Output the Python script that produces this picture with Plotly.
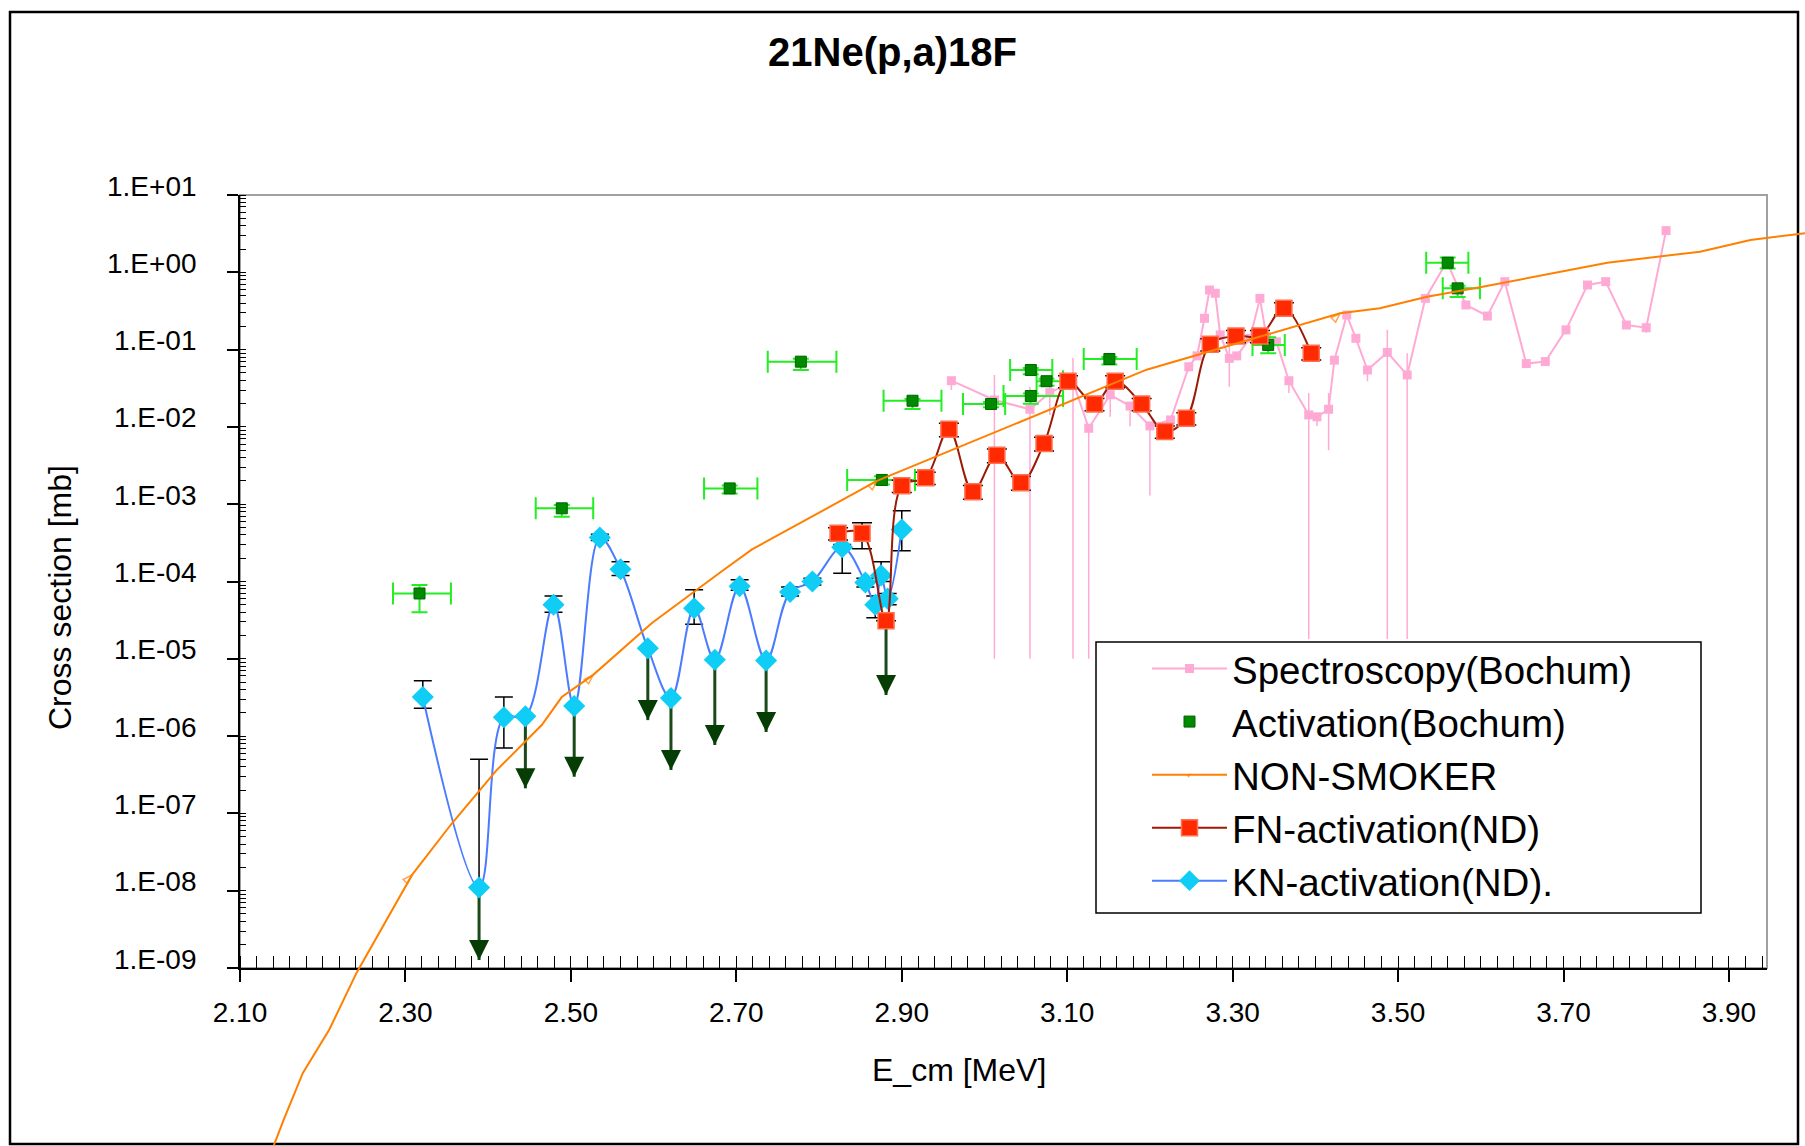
import plotly.graph_objects as go

W, H = 1805, 1146
FONT = "Liberation Sans, Arial, sans-serif"

# ---------------- data ----------------
# Spectroscopy (Bochum)
spec_E = [2.960, 3.012, 3.055, 3.079, 3.107, 3.126, 3.152, 3.176, 3.200, 3.225,
          3.247, 3.257, 3.266, 3.272, 3.279, 3.285, 3.296, 3.305, 3.321, 3.333,
          3.341, 3.353, 3.368, 3.392, 3.402, 3.416, 3.423, 3.438, 3.449, 3.463,
          3.487, 3.511, 3.533, 3.559, 3.582, 3.608, 3.629, 3.655, 3.678, 3.703,
          3.729, 3.751, 3.776, 3.800, 3.824]
spec_sigma = [0.0396, 0.0223, 0.0169, 0.0277, 0.0385, 0.0096, 0.026, 0.0186, 0.0103, 0.0123,
              0.060, 0.083, 0.254, 0.59, 0.535, 0.155, 0.077, 0.083, 0.14, 0.46,
              0.144, 0.126, 0.0396, 0.0143, 0.0135, 0.0169, 0.073, 0.28, 0.14, 0.0545,
              0.092, 0.047, 0.46, 1.37, 0.378, 0.272, 0.757, 0.066, 0.070, 0.18,
              0.685, 0.757, 0.208, 0.192, 3.46]
spec_hi = [None, 0.047, 0.033, 0.033, 0.078, None, None, 0.021, 0.0112, 0.0135,
           0.066, None, None, None, None, None, 0.109, None, None, None,
           None, None, None, 0.0275, None, 0.0275, None, None, None, None,
           0.18, 0.090, None, None, None, None, None, None, None, None,
           None, None, None, None, None]
spec_lo = [0.030, 1e-5, 1e-5, 0.0143, 1e-5, 1e-5, 0.0135, 0.0102, 1.3e-3, 0.0096,
           0.052, None, None, None, None, None, 0.033, None, None, None,
           None, None, 0.0275, 1.8e-5, 0.0102, 5.0e-3, None, None, None, 0.039,
           1.8e-5, 1.8e-5, None, None, None, 0.24, None, 0.058, 0.062, 0.16,
           None, None, None, 0.165, None]

# Activation (Bochum)
act_E = [2.317, 2.489, 2.692, 2.778, 2.876, 2.913, 3.008, 3.056, 3.056, 3.075,
         3.151, 3.343, 3.560, 3.572]
act_sigma = [7.0e-5, 8.85e-4, 1.6e-3, 0.0698, 2.06e-3, 0.0218, 0.0198, 0.0545, 0.0251, 0.039,
             0.0756, 0.115, 1.33, 0.62]
act_E_lo = [2.285, 2.4575, 2.661, 2.738, 2.834, 2.878, 2.974, 3.031, 3.023, 3.063,
            3.120, 3.324, 3.534, 3.554]
act_E_hi = [2.355, 2.527, 2.7255, 2.821, 2.916, 2.948, 3.025, 3.082, 3.095, 3.095,
            3.184, 3.363, 3.585, 3.599]
act_hi = [9.0e-5, 9.8e-4, 1.75e-3, 0.076, 2.3e-3, 0.0229, 0.021, 0.058, 0.027, 0.042,
          0.080, 0.144, 1.55, 0.67]
act_lo = [4.0e-5, 6.9e-4, 1.38e-3, 0.0545, 1.8e-3, 0.0170, 0.018, 0.048, 0.020, 0.034,
          0.064, 0.090, 1.12, 0.48]

# NON-SMOKER calculation
ns_E = [2.141, 2.153, 2.176, 2.208, 2.241, 2.308, 2.356, 2.410, 2.465, 2.489,
        2.527, 2.598, 2.680, 2.719, 2.870, 3.019, 3.196, 3.430, 3.478, 3.535,
        3.599, 3.753, 3.865, 3.926, 3.992]
ns_sigma = [5.1e-12, 1.1e-11, 4.4e-11, 1.6e-10, 8.7e-10, 1.6e-8, 7.4e-8, 3.6e-7, 1.4e-6, 3.2e-6,
            6.2e-6, 2.9e-5, 1.3e-4, 2.6e-4, 2.0e-3, 9.1e-3, 5.5e-2, 0.295, 0.342, 0.483,
            0.64, 1.33, 1.85, 2.62, 3.2]
ns_marked = [5, 10, 14, 17]   # points carrying a marker

# FN-activation (ND)
fn_E = [2.823, 2.852, 2.881, 2.900, 2.929, 2.957, 2.986, 3.015, 3.044, 3.072,
        3.101, 3.133, 3.158, 3.190, 3.218, 3.244, 3.273, 3.304, 3.333, 3.362, 3.395]
fn_sigma = [4.2e-4, 4.2e-4, 3.1e-5, 1.73e-3, 2.2e-3, 9.3e-3, 1.45e-3, 4.3e-3, 1.9e-3, 6.1e-3,
            3.9e-2, 1.98e-2, 3.9e-2, 1.98e-2, 8.7e-3, 1.29e-2, 0.117, 0.150, 0.150, 0.342, 0.0895]
fn_err_pct = [18, 37, 0, 18, 18, 20, 20, 20, 20, 20,
              18, 18, 18, 18, 18, 18, 18, 18, 18, 18, 18]
# upper limits: where the arrow ends
fn_limit = [None, None, 3.40e-6, None, None, None, None, None, None, None,
            None, None, None, None, None, None, None, None, None, None, None]

# KN-activation (ND)
kn_E = [2.321, 2.389, 2.419, 2.445, 2.479, 2.504, 2.535, 2.560, 2.593, 2.621, 2.649,
        2.674, 2.704, 2.736, 2.765, 2.792, 2.828, 2.856, 2.868, 2.875, 2.883, 2.900]
kn_sigma = [3.2e-6, 1.1e-8, 1.75e-6, 1.8e-6, 5.0e-5, 2.45e-6, 3.7e-4, 1.44e-4, 1.37e-5, 3.1e-6, 4.5e-5,
            9.7e-6, 8.7e-5, 9.5e-6, 7.3e-5, 1.0e-4, 2.77e-4, 9.7e-5, 5.0e-5, 1.2e-4, 6.0e-5, 4.7e-4]
kn_hi = [5.2e-6, 5.0e-7, 3.2e-6, None, 6.5e-5, None, 4.1e-4, 1.8e-4, None, None, 7.8e-5,
         None, 1.05e-4, None, 8.5e-5, 1.1e-4, 3.0e-4, 1.1e-4, 6.5e-5, 1.8e-4, 7.0e-5, 8.2e-4]
kn_lo = [2.3e-6, None, 7.0e-7, None, 4.0e-5, None, 3.4e-4, 1.2e-4, None, None, 2.8e-5,
         None, 7.7e-5, None, 6.5e-5, 9.0e-5, 1.28e-4, 8.5e-5, 3.4e-5, 1.0e-4, 5.0e-5, 2.5e-4]
kn_limit = [None, 1.27e-9, None, 2.11e-7, None, 2.98e-7, None, None, 1.61e-6, 3.64e-7, None,
            7.67e-7, None, 1.13e-6, None, None, None, None, None, None, None, None]

y_tick_exp = [-9, -8, -7, -6, -5, -4, -3, -2, -1, 0, 1]
y_ticktext = ["1.E-09", "1.E-08", "1.E-07", "1.E-06", "1.E-05", "1.E-04",
              "1.E-03", "1.E-02", "1.E-01", "1.E+00", "1.E+01"]


def plus(vals, hi):
    return [(h - v) if h is not None else 0 for v, h in zip(vals, hi)]


def minus(vals, lo):
    return [(v - l) if l is not None else 0 for v, l in zip(vals, lo)]


# ---------------- layout geometry (pixels) ----------------
PL, PR, PT, PB = 240, 1767, 195, 968          # plot area
X_RANGE = [2.10, 3.946]
Y_RANGE = [-9, 1]
px_per_x = (PR - PL) / (X_RANGE[1] - X_RANGE[0])
px_per_dec = (PB - PT) / (Y_RANGE[1] - Y_RANGE[0])
# full-figure axes with the same scale (lets the theory curve run past the frame)
X2_RANGE = [X_RANGE[0] - PL / px_per_x, X_RANGE[1] + (W - PR) / px_per_x]
Y2_RANGE = [Y_RANGE[0] - (H - PB) / px_per_dec, Y_RANGE[1] + PT / px_per_dec]

fig = go.Figure()

# Spectroscopy
fig.add_trace(go.Scatter(
    x=spec_E, y=spec_sigma, mode="lines+markers", name="Spectroscopy(Bochum)",
    legendrank=1,
    line=dict(color="#FFAAD5", width=2),
    marker=dict(symbol="square", size=9, color="#FFAAD5"),
    error_y=dict(type="data", symmetric=False, array=plus(spec_sigma, spec_hi),
                 arrayminus=minus(spec_sigma, spec_lo), color="#FFAAD5",
                 thickness=1.5, width=0),
))

# Activation
fig.add_trace(go.Scatter(
    x=act_E, y=act_sigma, mode="markers", name="Activation(Bochum)",
    legendrank=2,
    marker=dict(symbol="square", size=11, color="#008A00",
                line=dict(color="#006400", width=1)),
    error_y=dict(type="data", symmetric=False, array=plus(act_sigma, act_hi),
                 arrayminus=minus(act_sigma, act_lo), color="#22EE22",
                 thickness=2, width=8),
    error_x=dict(type="data", symmetric=False,
                 array=[h - e for e, h in zip(act_E, act_E_hi)],
                 arrayminus=[e - l for e, l in zip(act_E, act_E_lo)],
                 color="#22EE22", thickness=2, width=11),
))

# Upper-limit arrows (KN and FN): stem from the point, head ending at the limit
lim_E, lim_from, lim_to = [], [], []
for e, s, t in list(zip(kn_E, kn_sigma, kn_limit)) + list(zip(fn_E, fn_sigma, fn_limit)):
    if t is not None:
        lim_E.append(e)
        lim_from.append(s)
        lim_to.append(t)
fig.add_trace(go.Scatter(
    x=lim_E, y=lim_to, mode="markers", showlegend=False, cliponaxis=False,
    marker=dict(symbol="arrow-down", size=20, color="#053D05"),
    error_y=dict(type="data", symmetric=False,
                 array=[f - t for f, t in zip(lim_from, lim_to)],
                 arrayminus=[0] * len(lim_E), color="#1A4A1A", thickness=3, width=0),
))

# KN-activation
fig.add_trace(go.Scatter(
    x=kn_E, y=kn_sigma, mode="lines+markers", name="KN-activation(ND).",
    legendrank=5,
    line=dict(color="#4B7BFF", width=2, shape="spline", smoothing=1.0),
    marker=dict(symbol="diamond", size=17, color="#0FCDF5"),
    error_y=dict(type="data", symmetric=False, array=plus(kn_sigma, kn_hi),
                 arrayminus=minus(kn_sigma, kn_lo), color="black",
                 thickness=1.5, width=9),
))

# FN-activation
fig.add_trace(go.Scatter(
    x=fn_E, y=fn_sigma, mode="lines+markers", name="FN-activation(ND)",
    legendrank=4,
    line=dict(color="#9A1A05", width=2, shape="spline", smoothing=1.0),
    marker=dict(symbol="square", size=16, color="#FF2A00",
                line=dict(color="#FF7050", width=1.5)),
    error_y=dict(type="data", symmetric=True,
                 array=[s * p / 100 for s, p in zip(fn_sigma, fn_err_pct)],
                 color="black", thickness=1.5, width=10),
))

# NON-SMOKER on full-figure axes
fig.add_trace(go.Scatter(
    x=ns_E, y=ns_sigma, mode="lines+markers", name="NON-SMOKER",
    legendrank=3, xaxis="x2", yaxis="y2",
    line=dict(color="#FF8000", width=2),
    marker=dict(symbol="arrow-open", angle=45, color="#FF8000",
                size=[10 if i in ns_marked else 0 for i in range(len(ns_E))],
                line=dict(color="#FF8000", width=1.5)),
))

axis_font = dict(family=FONT, size=28, color="black")

# y tick labels sit slightly above their ticks
y_labels = [dict(text=t, x=199 / W, xref="paper", y=e, yref="y",
                 xanchor="right", yanchor="middle", yshift=9, showarrow=False,
                 font=axis_font)
            for e, t in zip(y_tick_exp, y_ticktext)]

fig.update_layout(
    template="none",
    width=W, height=H, autosize=False,
    margin=dict(l=0, r=0, t=0, b=0, pad=0, autoexpand=False),
    paper_bgcolor="white", plot_bgcolor="rgba(0,0,0,0)",
    font=dict(family=FONT, color="black"),
    xaxis=dict(
        domain=[PL / W, PR / W], range=X_RANGE, anchor="y", automargin=False,
        tick0=2.1, dtick=0.2, tickformat=".2f",
        ticks="outside", ticklen=12, tickwidth=1.5, tickcolor="black",
        showline=True, linecolor="black", linewidth=2,
        showgrid=False, zeroline=False, tickfont=axis_font,
        ticklabelstandoff=6,
        minor=dict(tick0=2.1, dtick=0.02, ticks="inside", ticklen=12,
                   tickwidth=1, tickcolor="black", showgrid=False),
    ),
    yaxis=dict(
        domain=[1 - PB / H, 1 - PT / H], type="log", range=Y_RANGE, anchor="x",
        automargin=False,
        tickvals=[10.0 ** e for e in y_tick_exp], showticklabels=False,
        ticks="outside", ticklen=11, tickwidth=1.5, tickcolor="black",
        showline=True, linecolor="black", linewidth=2,
        showgrid=False, zeroline=False,
        minor=dict(dtick="D1", ticks="inside", ticklen=6, tickwidth=1,
                   tickcolor="black", showgrid=False),
    ),
    xaxis2=dict(domain=[0, 1], range=X2_RANGE, anchor="y2", visible=False,
                automargin=False, showgrid=False, zeroline=False),
    yaxis2=dict(domain=[0, 1], type="log", range=Y2_RANGE, anchor="x2", visible=False,
                automargin=False, showgrid=False, zeroline=False),
    showlegend=True,
    legend=dict(
        x=1147 / W, y=1 - 637 / H, xanchor="left", yanchor="top",
        font=dict(family=FONT, size=38.5, color="black"),
        bgcolor="rgba(0,0,0,0)", borderwidth=0, itemwidth=75,
        tracegroupgap=0, traceorder="normal",
    ),
    shapes=[
        # outer chart frame
        dict(type="rect", xref="paper", yref="paper",
             x0=10 / W, x1=1798 / W, y0=1 - 1144 / H, y1=1 - 12 / H,
             line=dict(color="black", width=2.5), layer="below"),
        # plot area frame
        dict(type="rect", xref="paper", yref="paper",
             x0=PL / W, x1=PR / W, y0=1 - PB / H, y1=1 - PT / H,
             line=dict(color="#A0A0A0", width=2), layer="below"),
        # legend box
        dict(type="rect", xref="paper", yref="paper",
             x0=1096 / W, x1=1701 / W, y0=1 - 913 / H, y1=1 - 642 / H,
             line=dict(color="black", width=1.5), fillcolor="white", layer="above"),
    ],
    annotations=y_labels + [
        dict(text="<b>21Ne(p,a)18F</b>", x=892 / W, y=1 - 52 / H,
             xref="paper", yref="paper", xanchor="center", yanchor="middle",
             showarrow=False, font=dict(family=FONT, size=40, color="black")),
        dict(text="Cross section [mb]", x=60 / W, y=1 - 598 / H, textangle=-90,
             xref="paper", yref="paper", xanchor="center", yanchor="middle",
             showarrow=False, font=dict(family=FONT, size=32, color="black")),
        dict(text="E_cm [MeV]", x=959 / W, y=1 - 1070 / H,
             xref="paper", yref="paper", xanchor="center", yanchor="middle",
             showarrow=False, font=dict(family=FONT, size=32, color="black")),
    ],
)

fig.write_html("out.html")
